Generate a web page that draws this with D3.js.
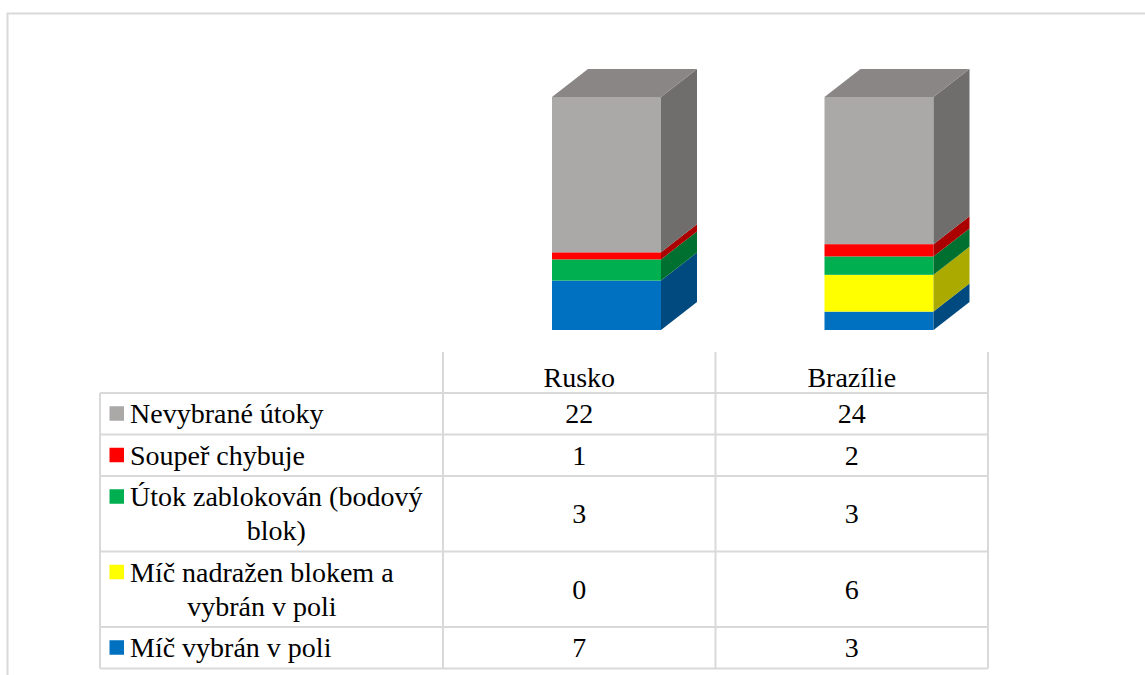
<!DOCTYPE html>
<html>
<head>
<meta charset="utf-8">
<script src="https://cdn.jsdelivr.net/npm/d3@7"></script>
<style>
@font-face { font-family: "ChartSerif"; src: local("Liberation Serif"), local("LiberationSerif"), local("LiberationSerif-Regular"), local("Times New Roman"); }
</style>
</head>
<body style="margin:0">
<svg id="chart" width="1145" height="675"></svg>
<script>
// ---- data ----
const categories = ["Rusko", "Brazílie"];
const seriesNames = ["Nevybrané útoky", "Soupeř chybuje", "Útok zablokován (bodový blok)", "Míč nadražen blokem a vybrán v poli", "Míč vybrán v poli"];
const seriesLines = [["Nevybrané útoky"], ["Soupeř chybuje"], ["Útok zablokován (bodový", "blok)"], ["Míč nadražen blokem a", "vybrán v poli"], ["Míč vybrán v poli"]];
const nevybrane = [22, 24];
const soupar = [1, 2];
const zablokovan = [3, 3];
const nadrazen = [0, 6];
const vybran = [7, 3];
const seriesValues = [nevybrane, soupar, zablokovan, nadrazen, vybran];
const frontColors = ["#ABA8A8", "#FF0000", "#00B050", "#FFFF00", "#0070C0"];
const sideColors  = ["#706D6D", "#AA0000", "#007030", "#AAAA00", "#004A80"];
const topColor = "#8A8685";

const svg = d3.select("#chart");
const gridColor = "#D9D9D9";
const fs = 28;
const FONT = "'Liberation Serif', 'ChartSerif', 'Times New Roman'";

// outer chart border (extends beyond the window)
svg.append("rect").attr("x", 7.5).attr("y", 13.5).attr("width", 1200).attr("height", 700)
  .attr("fill", "none").attr("stroke", gridColor).attr("stroke-width", 2);

// scales
const x = d3.scaleBand().domain(categories).range([443, 988]).padding(0);
const y = d3.scaleLinear().domain([0, 1]).range([330, 97]);
const dx = 36, dy = 28;

// stack (100% stacked, bottom = last series)
const order = d3.range(seriesNames.length).reverse();
const totals = categories.map((c, j) => d3.sum(seriesValues, s => s[j]));

categories.forEach((c, j) => {
  const x0 = x(c) + x.bandwidth() * 0.4;
  const x1 = x(c) + x.bandwidth() * 0.8;
  let cum = 0;
  order.forEach(i => {
    const v = seriesValues[i][j] / totals[j];
    const yb = y(cum), yt = y(cum + v);
    cum += v;
    if (v <= 0) return;
    svg.append("rect").attr("x", x0).attr("y", yt).attr("width", x1 - x0).attr("height", yb - yt)
      .attr("fill", frontColors[i]);
    svg.append("polygon")
      .attr("points", [[x1, yt], [x1 + dx, yt - dy], [x1 + dx, yb - dy], [x1, yb]].map(p => p.join(",")).join(" "))
      .attr("fill", sideColors[i]);
  });
  const yTop = y(1);
  svg.append("polygon")
    .attr("points", [[x0, yTop], [x1, yTop], [x1 + dx, yTop - dy], [x0 + dx, yTop - dy]].map(p => p.join(",")).join(" "))
    .attr("fill", topColor);
});

// ---- data table ----
const tableLeft = 100, labelRight = 443, tableRight = 988;
const headerTop = 352, headerBottom = 393;
const lineH = 34, baseRowH = 41.5;
const rowTops = [];
let yy = headerBottom;
seriesLines.forEach(l => { rowTops.push(yy); yy += baseRowH + lineH * (l.length - 1); });
const tableBottom = yy;

function hline(v) {
  svg.append("line").attr("x1", tableLeft).attr("x2", tableRight).attr("y1", v).attr("y2", v)
    .attr("stroke", gridColor).attr("stroke-width", 2);
}
function vline(v, y1) {
  svg.append("line").attr("x1", v).attr("x2", v).attr("y1", y1).attr("y2", tableBottom)
    .attr("stroke", gridColor).attr("stroke-width", 2);
}
[headerBottom, ...rowTops.slice(1), tableBottom].forEach(hline);
vline(tableLeft, headerBottom);
[labelRight, x("Brazílie"), tableRight].forEach(v => vline(v, headerTop));

function addText(str, px, by, anchor) {
  return svg.append("text")
    .style("font-family", FONT)
    .attr("font-size", fs)
    .attr("text-anchor", anchor)
    .attr("x", px).attr("y", by)
    .text(str);
}

// header
categories.forEach(c => addText(c, x(c) + x.bandwidth() / 2, 387, "middle"));

// rows
const labelBlocks = [];
seriesLines.forEach((lines, i) => {
  const top = rowTops[i];
  const h = baseRowH + lineH * (lines.length - 1);
  const cy = top + h / 2;
  const base0 = cy + 9.5 - lineH * (lines.length - 1) / 2;
  const nodes = lines.map((ln, k) => addText(ln, 130, base0 + k * lineH, "start"));
  labelBlocks.push(nodes);
  svg.append("rect").attr("x", 109.5).attr("y", base0 - 17).attr("width", 14.5).attr("height", 14.5)
    .attr("fill", frontColors[i]);
  categories.forEach((c, j) => addText(String(seriesValues[i][j]), x(c) + x.bandwidth() / 2, cy + 9.5, "middle"));
});

// centre the wrapped lines of each label block once fonts are ready
function centreBlocks() {
  labelBlocks.forEach(nodes => {
    if (nodes.length < 2) return;
    const widths = nodes.map(n => n.node().getComputedTextLength());
    const maxW = d3.max(widths);
    const cx = 130 + maxW / 2;
    nodes.forEach(n => n.attr("text-anchor", "middle").attr("x", cx));
  });
}
if (document.fonts && document.fonts.ready) {
  document.fonts.ready.then(() => requestAnimationFrame(centreBlocks));
} else {
  setTimeout(centreBlocks, 50);
}
</script>
</body>
</html>
